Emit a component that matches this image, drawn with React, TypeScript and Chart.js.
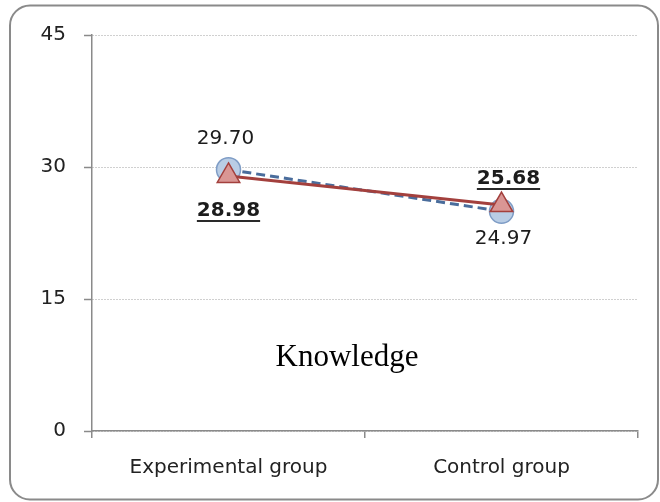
import React, { useEffect, useRef } from "react";
import { Chart, registerables } from "chart.js";

Chart.register(...registerables);

const categories = ["Experimental group", "Control group"];
const circleSeries = [29.7, 24.97];
const triangleSeries = [28.98, 25.68];
const yTicks = [0, 15, 30, 45];
const chartTitle = "Knowledge";

export default function App() {
  const ref = useRef<HTMLCanvasElement | null>(null);

  useEffect(() => {
    const canvas = ref.current;
    if (!canvas) return;

    const frame = {
      id: "frame",
      beforeDraw(chart: any) {
        const ctx = chart.ctx;
        ctx.save();
        ctx.fillStyle = "#ffffff";
        ctx.fillRect(0, 0, chart.width, chart.height);
        ctx.strokeStyle = "#8a8a8a";
        ctx.lineWidth = 2;
        ctx.beginPath();
        (ctx as any).roundRect(10, 5.5, 648, 494, 20);
        ctx.stroke();
        ctx.restore();
      },
    };

    // label style per series/point: [dx, dy, bold/underline]
    const labelStyle = [
      { bold: true, off: [[0, 35], [7, -26]] },
      { bold: false, off: [[-3, -31], [2, 28]] },
    ];

    const labels = {
      id: "labels",
      afterDatasetsDraw(chart: any) {
        const ctx = chart.ctx;
        ctx.save();
        chart.data.datasets.forEach((ds: any, di: number) => {
          const meta = chart.getDatasetMeta(di);
          const st = labelStyle[di];
          meta.data.forEach((pt: any, i: number) => {
            const txt = Number(ds.data[i]).toFixed(2);
            const x = pt.x + st.off[i][0];
            const y = pt.y + st.off[i][1];
            ctx.font = (st.bold ? "bold " : "") + "20px 'DejaVu Sans'";
            ctx.fillStyle = "#1c1c1c";
            ctx.textAlign = "center";
            ctx.textBaseline = "middle";
            ctx.fillText(txt, x, y);
            if (st.bold) {
              const w = ctx.measureText(txt).width;
              ctx.strokeStyle = "#2a2a2a";
              ctx.lineWidth = 2;
              ctx.beginPath();
              ctx.moveTo(x - w / 2, y + 10);
              ctx.lineTo(x + w / 2, y + 10);
              ctx.stroke();
            }
          });
        });
        ctx.font = "31px 'Liberation Serif'";
        ctx.fillStyle = "#000";
        ctx.textAlign = "center";
        ctx.textBaseline = "alphabetic";
        ctx.fillText(chartTitle, 347, 366);
        ctx.restore();
      },
    };

    const chart = new Chart(canvas, {
      type: "line",
      data: {
        labels: categories,
        datasets: [
          {
            label: "B",
            data: triangleSeries,
            order: 0,
            borderColor: "#a3403d",
            borderWidth: 3,
            pointStyle: "triangle",
            pointRadius: 13,
            pointBackgroundColor: "#d99694",
            pointBorderColor: "#a3403d",
            pointBorderWidth: 1.5,
            tension: 0,
          },
          {
            label: "A",
            data: circleSeries,
            order: 1,
            borderColor: "#4a6d9c",
            borderWidth: 3,
            borderDash: [9, 5],
            pointStyle: "circle",
            pointRadius: 12,
            pointBackgroundColor: "#b9cde5",
            pointBorderColor: "#7f9dc6",
            pointBorderWidth: 1.5,
            tension: 0,
          },
        ],
      },
      options: {
        animation: false,
        responsive: false,
        layout: { padding: { left: 0, right: 22, top: 35, bottom: 0 } },
        plugins: { legend: { display: false }, tooltip: { enabled: false } },
        scales: {
          x: {
            type: "category",
            offset: true,
            grid: {
              offset: true,
              drawOnChartArea: false,
              drawTicks: true,
              tickLength: 7,
              color: "#8a8a8a",
              lineWidth: 1.5,
            },
            border: { color: "#8a8a8a", width: 1.5 },
            ticks: {
              font: { family: "'DejaVu Sans'", size: 20 },
              color: "#222",
              padding: 18,
            },
            afterFit(scale: any) {
              scale.height = 71;
            },
          },
          y: {
            min: 0,
            max: 45,
            afterBuildTicks(scale: any) {
              scale.ticks = yTicks.map((v) => ({ value: v }));
            },
            grid: {
              color: "#a0a0a0",
              lineWidth: 1,
              drawTicks: true,
              tickLength: 8,
              tickColor: "#8a8a8a",
              tickWidth: 1.5,
            },
            border: { color: "#8a8a8a", width: 1.5, dash: [1, 2] },
            ticks: {
              font: { family: "'DejaVu Sans'", size: 20 },
              color: "#222",
              padding: 18,
            },
            afterFit(scale: any) {
              scale.width = 92;
            },
          },
        },
      },
      plugins: [frame, labels],
    });

    return () => chart.destroy();
  }, []);

  return (
    <div style={{ position: "fixed", left: 0, top: 0, width: 660, height: 502 }}>
      <canvas ref={ref} width={660} height={502} style={{ display: "block" }} />
    </div>
  );
}
